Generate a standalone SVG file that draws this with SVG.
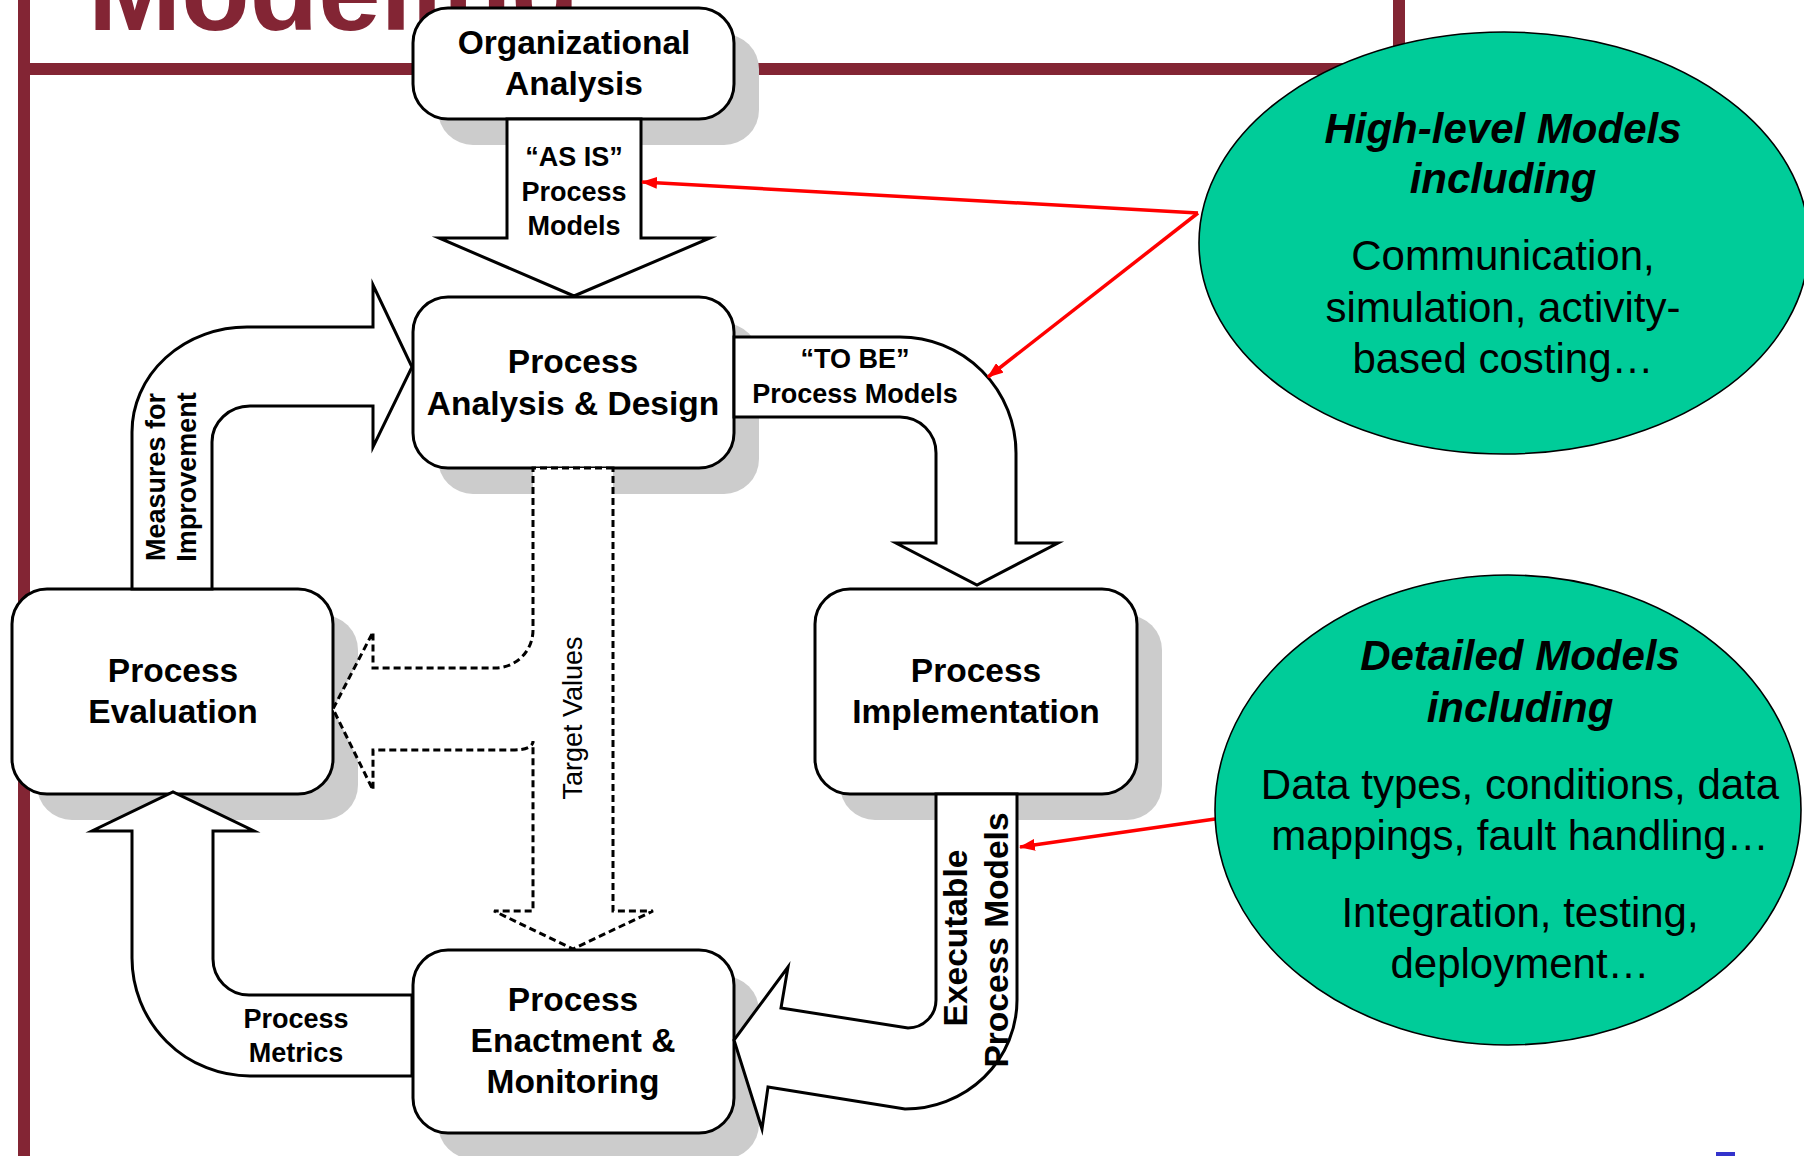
<svg xmlns="http://www.w3.org/2000/svg" width="1804" height="1156" viewBox="0 0 1804 1156">
<defs>
<style>
.frame{stroke:#832534;stroke-width:12;fill:none}
.title{font-family:"Liberation Sans",Arial,sans-serif;font-weight:bold;font-size:112px;fill:#832534}
.shadow{fill:#cccccc}
.box{fill:#ffffff;stroke:#000;stroke-width:3}
.lbl{font-family:"Liberation Sans",Arial,sans-serif;font-weight:bold;font-size:33.5px;text-anchor:middle;fill:#000}
.alb{font-family:"Liberation Sans",Arial,sans-serif;font-weight:bold;font-size:27px;text-anchor:middle;fill:#000}
.tv{font-family:"Liberation Sans",Arial,sans-serif;font-size:27px;text-anchor:middle;fill:#000}
.arrow{fill:#ffffff;stroke:#000;stroke-width:3;stroke-linejoin:miter;stroke-miterlimit:20}
.dash{fill:#ffffff;stroke:#000;stroke-width:3;stroke-dasharray:7 4;stroke-linejoin:miter}
.red{stroke:#ff0000;stroke-width:3.5;fill:none}
.ell{fill:#00cc99;stroke:#000;stroke-width:1.6}
.eh{font-family:"Liberation Sans",Arial,sans-serif;font-weight:bold;font-style:italic;font-size:42px;text-anchor:middle;fill:#000}
.et{font-family:"Liberation Sans",Arial,sans-serif;font-size:42px;text-anchor:middle;fill:#000}
</style>
<marker id="rh" viewBox="0 0 16 12" refX="15" refY="6" markerWidth="16" markerHeight="12" markerUnits="userSpaceOnUse" orient="auto">
<path d="M0 0 L16 6 L0 12 Z" fill="#ff0000"/>
</marker>
</defs>
<rect width="1804" height="1156" fill="#ffffff"/>
<g id="frame">
<text class="title" x="88" y="30">Modeling</text>
<line class="frame" x1="24" y1="0" x2="24" y2="1156"/>
<line class="frame" x1="18" y1="69" x2="1405" y2="69"/>
<line class="frame" x1="1399" y1="0" x2="1399" y2="75"/>
</g>
<g id="node-org">
<rect class="shadow" x="438" y="34" width="321" height="111" rx="35"/>
<rect class="box" x="413" y="8" width="321" height="111" rx="35"/>
<text class="lbl" x="574" y="54">Organizational</text>
<text class="lbl" x="574" y="95">Analysis</text>
</g>
<g id="node-design">
<rect class="shadow" x="438" y="323" width="321" height="171" rx="35"/>
<rect class="box" x="413" y="297" width="321" height="171" rx="35"/>
<text class="lbl" x="573" y="373">Process</text>
<text class="lbl" x="573" y="415">Analysis &amp; Design</text>
</g>
<g id="node-implementation">
<rect class="shadow" x="840" y="615" width="322" height="205" rx="35"/>
<rect class="box" x="815" y="589" width="322" height="205" rx="35"/>
<text class="lbl" x="976" y="682">Process</text>
<text class="lbl" x="976" y="723">Implementation</text>
</g>
<g id="node-evaluation">
<rect class="shadow" x="37" y="615" width="321" height="205" rx="35"/>
<rect class="box" x="12" y="589" width="321" height="205" rx="35"/>
<text class="lbl" x="173" y="682">Process</text>
<text class="lbl" x="173" y="723">Evaluation</text>
</g>
<g id="node-enactment">
<rect class="shadow" x="438" y="976" width="321" height="183" rx="35"/>
<rect class="box" x="413" y="950" width="321" height="183" rx="35"/>
<text class="lbl" x="573" y="1011">Process</text>
<text class="lbl" x="573" y="1052">Enactment &amp;</text>
<text class="lbl" x="573" y="1093">Monitoring</text>
</g>
<g id="connectors">
<path class="arrow" d="M507 119 L507 238 L439 238 L574 296 L710 238 L641 238 L641 119 Z"/>
<text class="alb" x="574" y="166">“AS IS”</text>
<text class="alb" x="574" y="201">Process</text>
<text class="alb" x="574" y="235">Models</text>
<path class="arrow" d="M132 589 L132 432 A115 105 0 0 1 247 327 L373 327 L373 285 L412 367 L373 447 L373 406 L250 406 A38 36 0 0 0 212 442 L212 589 Z"/>
<text class="alb" transform="translate(165,477) rotate(-90)">Measures for</text>
<text class="alb" transform="translate(196,477) rotate(-90)">Improvement</text>
<path class="arrow" d="M734 337 L900 337 A116 116 0 0 1 1016 453 L1016 543 L1058 543 L977 585 L896 543 L936 543 L936 453 A36 36 0 0 0 900 417 L734 417 Z"/>
<text class="alb" x="855" y="368">“TO BE”</text>
<text class="alb" x="855" y="403">Process Models</text>
<path class="arrow" d="M936 794 L936 1000 A28 28 0 0 1 908 1028 L781 1008 L788 967 L734 1040 L762 1129 L768 1087 L905 1109 A112 109 0 0 0 1017 1000 L1017 794 Z"/>
<text class="lbl" transform="translate(967,938) rotate(-90)">Executable</text>
<text class="lbl" transform="translate(1008,940) rotate(-90)">Process Models</text>
<path class="arrow" d="M412 995 L249 995 A36 36 0 0 1 213 959 L213 831 L254 831 L173 792 L92 831 L132 831 L132 958 A118 118 0 0 0 250 1076 L412 1076 Z"/>
<text class="alb" x="296" y="1028">Process</text>
<text class="alb" x="296" y="1062">Metrics</text>
<path class="dash" d="M613 468 L533 468 L533 630 A38 38 0 0 1 495 668 L373 668 L373 632 L333 709 L373 790 L373 750 L512 750 Q533 750 533 741 L533 911 L494 911 L573 949 L653 911 L613 911 Z"/>
<text class="tv" transform="translate(582,718) rotate(-90)">Target Values</text>
<line class="red" x1="1198" y1="213" x2="642" y2="182" marker-end="url(#rh)"/>
<line class="red" x1="1198" y1="213" x2="988" y2="377" marker-end="url(#rh)"/>
<line class="red" x1="1215" y1="819" x2="1020" y2="847" marker-end="url(#rh)"/>
</g>
<g id="node-highlevel">
<ellipse class="ell" cx="1504" cy="243" rx="305" ry="211"/>
<text class="eh" x="1503" y="143">High-level Models</text>
<text class="eh" x="1503" y="193">including</text>
<text class="et" x="1503" y="270">Communication,</text>
<text class="et" x="1503" y="322">simulation, activity-</text>
<text class="et" x="1503" y="373">based costing…</text>
</g>
<g id="node-detailed">
<ellipse class="ell" cx="1508" cy="810" rx="293" ry="235"/>
<text class="eh" x="1520" y="670">Detailed Models</text>
<text class="eh" x="1520" y="722">including</text>
<text class="et" x="1520" y="799">Data types, conditions, data</text>
<text class="et" x="1520" y="850">mappings, fault handling…</text>
<text class="et" x="1520" y="927">Integration, testing,</text>
<text class="et" x="1520" y="978">deployment…</text>
</g>
<rect x="1716" y="1152" width="19" height="4" fill="#3333cc"/>
</svg>
